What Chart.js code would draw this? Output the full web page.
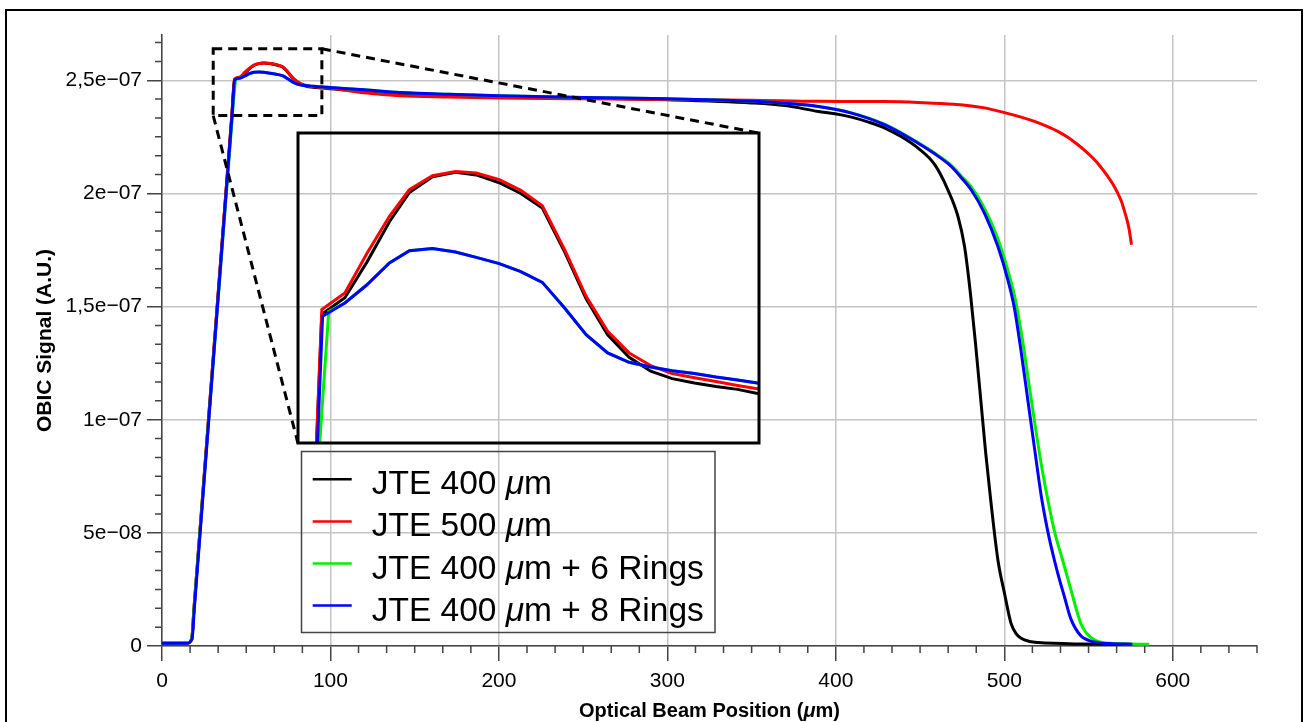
<!DOCTYPE html>
<html>
<head>
<meta charset="utf-8">
<title>OBIC Signal</title>
<script src="https://cdn.jsdelivr.net/npm/chart.js@4.4.0/dist/chart.umd.min.js"></script>
<style>
    html, body { margin: 0; padding: 0; background: #fff; }
    #wrap { position: relative; width: 1307px; height: 722px; overflow: hidden; }
    #insetWrap { position: absolute; }
</style>
</head>
<body>
<div id="wrap">
    <canvas id="mainChart" width="1307" height="722"></canvas>
    <div id="insetWrap"><canvas id="insetChart"></canvas></div>
</div>
<script>
// positions in um, signal in units of 1e-7 A.U.
const jte400Pos = [0, 14.6, 17.6, 19.0, 41.5, 43.1, 46.1, 49.0, 51.9, 54.5, 57.5, 60.5, 63.2, 66.2, 69.0, 71.8, 74.7, 77.5, 80.3, 83.1, 85.9, 88.7, 91.6, 94.4, 97.2, 100,
    120, 141, 170, 200, 250, 300, 350, 370, 389.6, 399.5,
    409.3, 419, 429.1, 439, 448.8, 458.7, 466.5, 472.5, 476.4, 480, 483, 486, 489, 492, 496.2, 500.1, 504, 507, 510, 515, 520, 545, 575];
const jte400Sig = [0.012, 0.012, 0.03, 0.166, 2.348, 2.503, 2.5115, 2.530, 2.5505, 2.5655, 2.5735, 2.5758, 2.5745, 2.5705, 2.565, 2.5575, 2.535, 2.511, 2.4925, 2.481, 2.4738, 2.470, 2.4678, 2.466, 2.4645, 2.4623,
    2.452, 2.441, 2.434, 2.428, 2.421, 2.414, 2.400, 2.388, 2.362, 2.352,
    2.337, 2.316, 2.289, 2.250, 2.200, 2.127, 2.016, 1.898, 1.765, 1.55, 1.33, 1.09, 0.85, 0.64, 0.38, 0.233, 0.10, 0.055, 0.034, 0.02, 0.015, 0.009, 0.008];

const jte500Pos = [0, 14.6, 17.6, 19.0, 41.5, 43.1, 46.1, 49.0, 51.9, 54.5, 57.5, 60.5, 63.2, 66.2, 69.0, 71.8, 74.7, 77.5, 80.3, 83.1, 85.9, 88.7, 91.6, 94.4, 97.2, 100,
    120, 141, 170, 200, 250, 300, 350, 389.6,
    429.1, 448.8, 470, 488.2, 500.1, 510, 517.9, 525, 531.7, 537, 543.5, 548, 553.4, 557, 561.3, 564.5, 567.2, 569.5, 571.2, 573, 574.1, 575.5];
const jte500Sig = [0.012, 0.012, 0.03, 0.166, 2.350, 2.5054, 2.5139, 2.5345, 2.5533, 2.5669, 2.5741, 2.5763, 2.5755, 2.5721, 2.5666, 2.5587, 2.5362, 2.5122, 2.4943, 2.4832, 2.4767, 2.4726, 2.4705, 2.4685, 2.4665, 2.4647,
    2.445, 2.432, 2.426, 2.422, 2.418, 2.415, 2.412, 2.407,
    2.406, 2.402, 2.394, 2.378, 2.357, 2.337, 2.318, 2.297, 2.274, 2.251, 2.216, 2.188, 2.150, 2.119, 2.076, 2.040, 2.003, 1.965, 1.925, 1.878, 1.842, 1.773];

const rings6Pos = [0, 14.6, 17.6, 19.0, 41.2, 42.7, 44.0, 46.1, 48.9, 51.9, 54.5, 57.5, 60.5, 63.2, 66.2, 69.0, 71.8, 74.7, 77.5, 80.3, 83.1, 85.9, 88.7, 91.6, 94.4, 97.2, 99.8,
    120, 141, 170, 200, 250, 300, 350, 370, 389.6, 409.3, 429.1, 448.8, 458.7, 468.5, 474.4,
    480.3, 488.2, 496.2, 502.1, 506, 510, 514, 518, 522, 526, 530, 534.6, 539.5, 545.4, 549, 553.4, 558, 563, 575, 586];
const rings6Sig = [0.012, 0.012, 0.03, 0.164, 2.286, 2.43, 2.5045, 2.5088, 2.5179, 2.5293, 2.5356, 2.5367, 2.535, 2.5322, 2.529, 2.5249, 2.5194, 2.5062, 2.4926, 2.4832, 2.4784, 2.476, 2.4741, 2.4726, 2.4708, 2.4693, 2.4678,
    2.458, 2.446, 2.438, 2.432, 2.424, 2.418, 2.408, 2.398, 2.384, 2.356, 2.305, 2.225, 2.178, 2.124, 2.077,
    2.03, 1.935, 1.80, 1.66, 1.55, 1.39, 1.19, 0.99, 0.80, 0.64, 0.50, 0.38, 0.25, 0.10, 0.055, 0.027, 0.016, 0.012, 0.009, 0.008];

const rings8Pos = [0, 14.6, 17.8, 19.2, 41.6, 43.2, 46.1, 48.9, 51.9, 54.5, 57.5, 60.5, 63.2, 66.2, 69.0, 71.8, 74.7, 77.5, 80.3, 83.1, 85.9, 88.7, 91.6, 94.4, 97.2, 99.8,
    120, 141, 170, 200, 250, 300, 350, 370, 389.6,
    409.3, 429.1, 448.8, 458.7, 468.5, 474.4, 480.3, 488.2, 496.2, 502.1, 506.0, 510, 514, 518, 522, 526, 529.7, 532.5, 535.6, 539.5, 545.4, 550, 555.4, 562, 576];
const rings8Sig = [0.012, 0.012, 0.03, 0.166, 2.346, 2.502, 2.5088, 2.5179, 2.5293, 2.5356, 2.5367, 2.535, 2.5322, 2.529, 2.5249, 2.5194, 2.5062, 2.4926, 2.4832, 2.4784, 2.476, 2.4741, 2.4726, 2.4708, 2.4693, 2.4678,
    2.458, 2.446, 2.438, 2.432, 2.424, 2.418, 2.408, 2.398, 2.384,
    2.355, 2.303, 2.222, 2.175, 2.119, 2.070, 2.016, 1.913, 1.765, 1.618, 1.493, 1.30, 1.085, 0.87, 0.66, 0.50, 0.38, 0.30, 0.22, 0.12, 0.045, 0.025, 0.015, 0.011, 0.008];

const seriesLabels = ["JTE 400 μm", "JTE 500 μm", "JTE 400 μm + 6 Rings", "JTE 400 μm + 8 Rings"];
const seriesColors = ["#000000", "#ff0000", "#00f000", "#0000ff"];

const xTickValues = [0, 100, 200, 300, 400, 500, 600];
const yTickValues = [0, 0.5, 1, 1.5, 2, 2.5];
const yTickLabels = ["0", "5e\u221208", "1e\u221207", "1,5e\u221207", "2e\u221207", "2,5e\u221207"];

// zoomed window (data units) and where the inset sits (main-chart data units)
const zoomWindow = { xMin: 30.4, xMax: 94.9, yMin: 2.344, yMax: 2.639 };
const insetRange = { xMin: 40, xMax: 100, yMin: 2.437, yMax: 2.596 };
const insetBox = { xMin: 80.7, xMax: 354.1, yMin: 0.896, yMax: 2.267 };

const FONT = '"Liberation Sans", Arial, Helvetica, sans-serif';
Chart.defaults.font.family = FONT;
Chart.defaults.color = "#000";

const posList = [jte400Pos, jte500Pos, rings6Pos, rings8Pos];
const sigList = [jte400Sig, jte500Sig, rings6Sig, rings8Sig];
const drawOrder = [3, 2, 1, 0];

function makeDatasets(smooth) {
    return seriesLabels.map((label, i) => ({
        label,
        data: posList[i].map((x, k) => ({ x, y: sigList[i][k] })),
        borderColor: seriesColors[i],
        backgroundColor: seriesColors[i],
        borderWidth: 3,
        pointRadius: 0,
        fill: false,
        order: drawOrder[i],
        cubicInterpolationMode: smooth ? "monotone" : "default",
        tension: 0,
        clip: 0,
    }));
}

function drawMixed(ctx, text, x, y, size, weight, align) {
    const normal = `${weight} ${size}px ${FONT}`;
    const italic = `italic ${weight} ${size}px ${FONT}`;
    const pieces = [];
    text.split("μ").forEach((p, i) => {
        if (i > 0) pieces.push({ t: "μ", f: italic });
        if (p) pieces.push({ t: p, f: normal });
    });
    let total = 0;
    pieces.forEach((pc) => { ctx.font = pc.f; pc.w = ctx.measureText(pc.t).width; total += pc.w; });
    let cx = align === "center" ? x - total / 2 : x;
    ctx.textAlign = "left";
    pieces.forEach((pc) => { ctx.font = pc.f; ctx.fillText(pc.t, cx, y); cx += pc.w; });
}

const mainExtras = {
    id: "mainExtras",
    beforeDraw(chart) {
        const ctx = chart.ctx;
        ctx.save();
        ctx.fillStyle = "#fff";
        ctx.fillRect(0, 0, chart.width, chart.height);
        ctx.strokeStyle = "#000";
        ctx.lineWidth = 2;
        ctx.strokeRect(6, 10, 1296, 740);
        ctx.restore();
    },
    afterDraw(chart) {
        const ctx = chart.ctx;
        const xs = chart.scales.x, ys = chart.scales.y;
        const area = chart.chartArea;
        ctx.save();

        // minor ticks (6 subdivisions per major step)
        ctx.strokeStyle = "#444";
        ctx.lineWidth = 1.5;
        ctx.beginPath();
        for (let k = 1; k * 100 / 6 <= 650.01; k++) {
            if (k % 6 === 0) continue;
            const px = xs.getPixelForValue(k * 100 / 6);
            ctx.moveTo(px, area.bottom);
            ctx.lineTo(px, area.bottom + 7);
        }
        for (let k = 1; k * 0.5 / 6 <= 2.7; k++) {
            if (k % 6 === 0) continue;
            const py = ys.getPixelForValue(k * 0.5 / 6);
            ctx.moveTo(area.left - 7, py);
            ctx.lineTo(area.left, py);
        }
        ctx.stroke();

        // axis titles
        ctx.fillStyle = "#000";
        ctx.textBaseline = "middle";
        drawMixed(ctx, "Optical Beam Position (μm)", (area.left + area.right) / 2, 711, 20, "bold", "center");
        ctx.save();
        ctx.translate(45, (area.top + area.bottom) / 2);
        ctx.rotate(-Math.PI / 2);
        drawMixed(ctx, "OBIC Signal (A.U.)", 0, 0, 21, "bold", "center");
        ctx.restore();

        // zoom window and connector lines
        const zl = xs.getPixelForValue(zoomWindow.xMin), zr = xs.getPixelForValue(zoomWindow.xMax);
        const zt = ys.getPixelForValue(zoomWindow.yMax), zb = ys.getPixelForValue(zoomWindow.yMin);
        const il = xs.getPixelForValue(insetBox.xMin), ir = xs.getPixelForValue(insetBox.xMax);
        const it = ys.getPixelForValue(insetBox.yMax), ib = ys.getPixelForValue(insetBox.yMin);
        ctx.strokeStyle = "#000";
        ctx.lineWidth = 3;
        ctx.setLineDash([9, 6]);
        ctx.strokeRect(zl, zt, zr - zl, zb - zt);
        ctx.beginPath();
        ctx.moveTo(zr, zt); ctx.lineTo(ir, it);
        ctx.moveTo(zl, zb); ctx.lineTo(il, ib);
        ctx.stroke();
        ctx.setLineDash([]);

        // legend
        ctx.strokeStyle = "#444";
        ctx.lineWidth = 1.5;
        ctx.strokeRect(301.5, 451.5, 413.5, 181);
        chart.data.datasets.forEach((ds, i) => {
            const y = 479.3 + i * 42.1;
            ctx.strokeStyle = ds.borderColor;
            ctx.lineWidth = 2.5;
            ctx.beginPath();
            ctx.moveTo(312.7, y);
            ctx.lineTo(351.7, y);
            ctx.stroke();
            ctx.fillStyle = "#000";
            ctx.textBaseline = "alphabetic";
            drawMixed(ctx, ds.label, 371.7, y + 15, 33.5, "normal", "left");
        });
        ctx.restore();
    },
};

const mainChart = new Chart(document.getElementById("mainChart"), {
    type: "line",
    data: { datasets: makeDatasets(true) },
    options: {
        responsive: false,
        animation: false,
        devicePixelRatio: 1,
        layout: { padding: { top: 35, right: 50, left: 0, bottom: 0 } },
        plugins: { legend: { display: false }, tooltip: { enabled: false } },
        scales: {
            x: {
                type: "linear",
                min: 0,
                max: 650,
                afterBuildTicks: (s) => { s.ticks = xTickValues.map((v) => ({ value: v })); },
                afterFit: (s) => { s.height = 76; },
                ticks: { font: { size: 21 }, color: "#000", padding: 8, maxRotation: 0, autoSkip: false },
                grid: { color: "#c4c4c4", lineWidth: 1.5, tickColor: "#444", tickWidth: 1.5, tickLength: 15 },
                border: { color: "#444", width: 1.5 },
            },
            y: {
                type: "linear",
                min: 0,
                max: 2.7,
                afterBuildTicks: (s) => { s.ticks = yTickValues.map((v) => ({ value: v })); },
                afterFit: (s) => { s.width = 162; },
                ticks: {
                    font: { size: 21 }, color: "#000", padding: 5, autoSkip: false,
                    callback: (v) => yTickLabels[yTickValues.indexOf(v)],
                },
                grid: { color: "#c4c4c4", lineWidth: 1.5, tickColor: "#444", tickWidth: 1.5, tickLength: 15 },
                border: { color: "#444", width: 1.5 },
            },
        },
    },
    plugins: [mainExtras],
});

// place the inset over the main chart
const xs = mainChart.scales.x, ys = mainChart.scales.y;
const boxLeft = xs.getPixelForValue(insetBox.xMin);
const boxRight = xs.getPixelForValue(insetBox.xMax);
const boxTop = ys.getPixelForValue(insetBox.yMax);
const boxBottom = ys.getPixelForValue(insetBox.yMin);
const insetWrap = document.getElementById("insetWrap");
const insetCanvas = document.getElementById("insetChart");
insetWrap.style.left = (boxLeft - 2) + "px";
insetWrap.style.top = (boxTop - 2) + "px";
insetCanvas.width = Math.round(boxRight - boxLeft + 4);
insetCanvas.height = Math.round(boxBottom - boxTop + 4);

const insetBorder = {
    id: "insetBorder",
    afterDraw(chart) {
        const { ctx, chartArea: a } = chart;
        ctx.save();
        ctx.strokeStyle = "#000";
        ctx.lineWidth = 3;
        ctx.strokeRect(a.left, a.top, a.right - a.left, a.bottom - a.top);
        ctx.restore();
    },
};

new Chart(insetCanvas, {
    type: "line",
    data: { datasets: makeDatasets(false) },
    options: {
        responsive: false,
        animation: false,
        devicePixelRatio: 1,
        layout: { padding: 2 },
        plugins: { legend: { display: false }, tooltip: { enabled: false } },
        scales: {
            x: { type: "linear", min: insetRange.xMin, max: insetRange.xMax, display: false },
            y: { type: "linear", min: insetRange.yMin, max: insetRange.yMax, display: false },
        },
    },
    plugins: [insetBorder],
});
</script>
</body>
</html>
